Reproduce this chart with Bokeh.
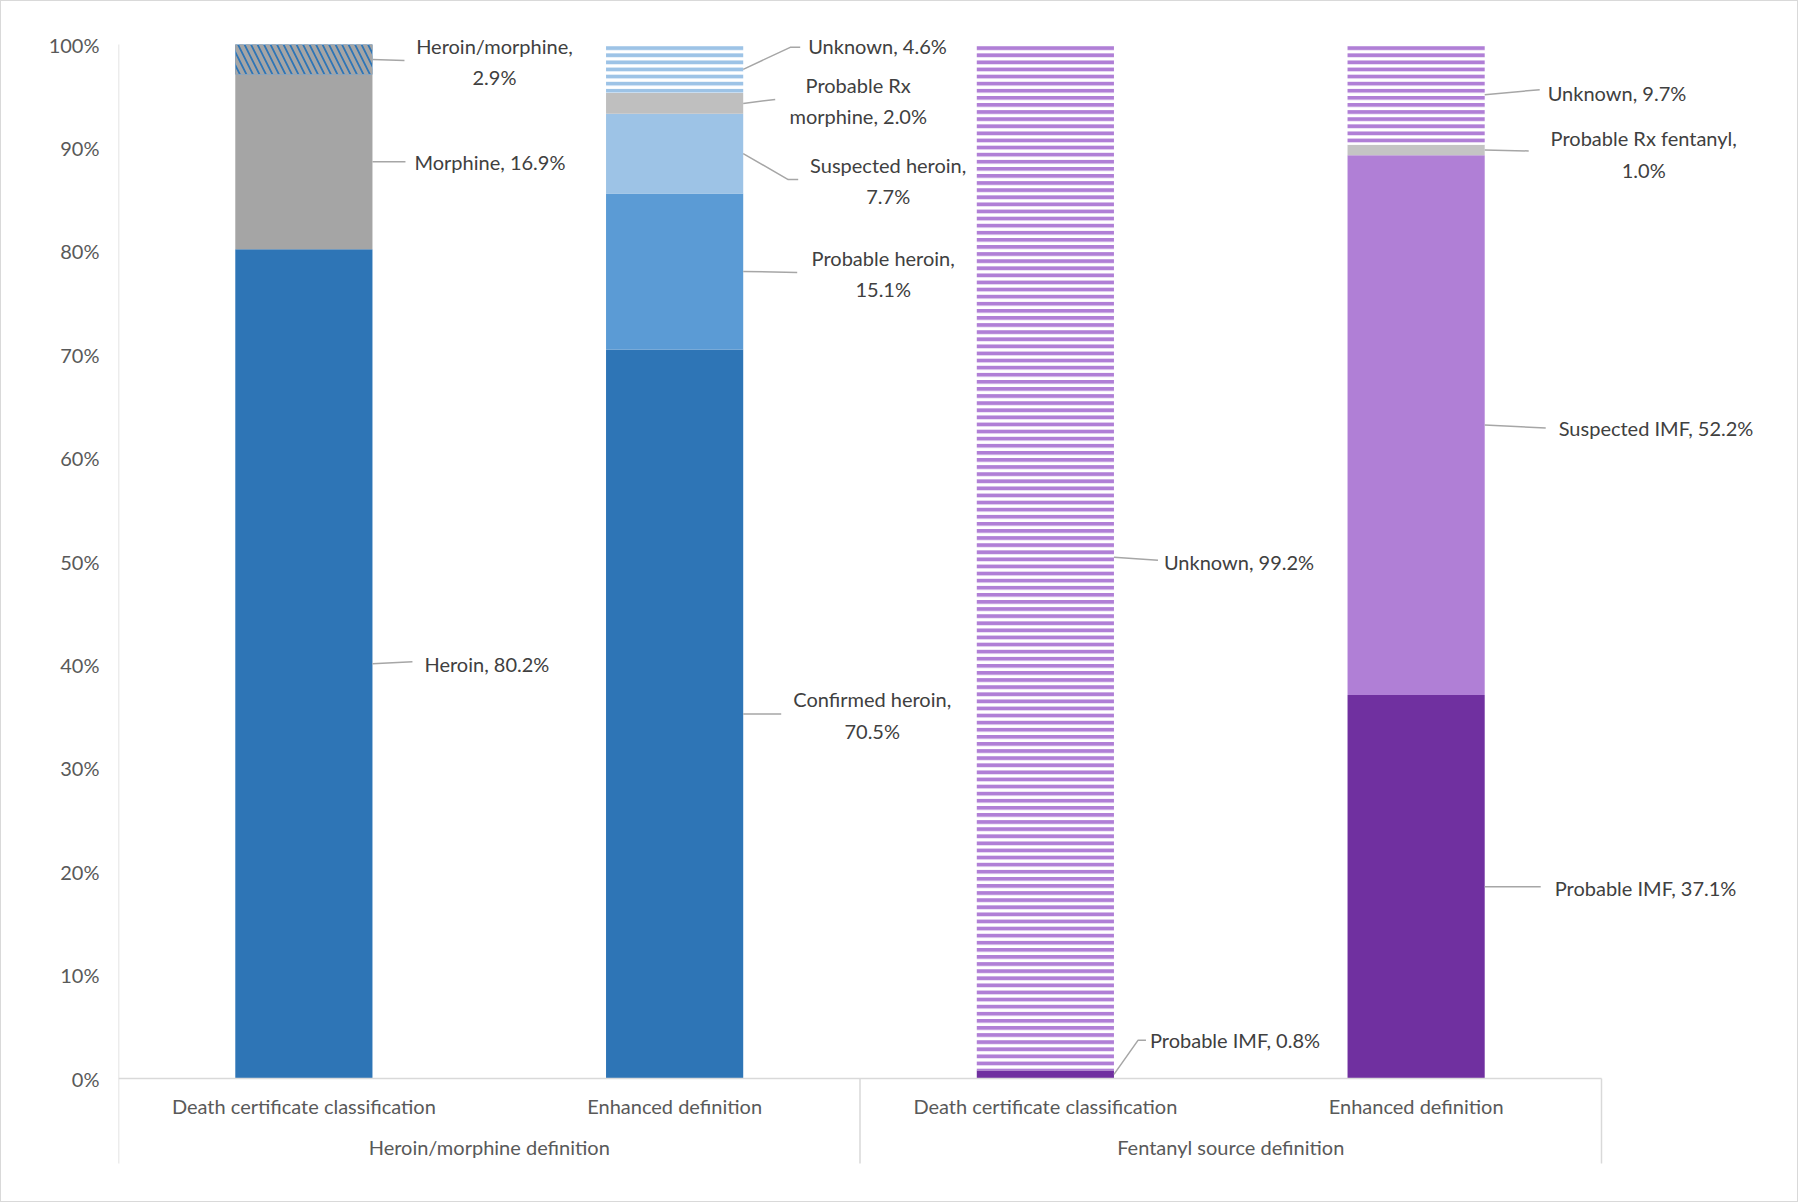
from bokeh.plotting import figure
from bokeh.models import Range1d, FixedTicker, PrintfTickFormatter, ColumnDataSource
from bokeh.embed import file_html
from bokeh.resources import INLINE
from bokeh.core.properties import value

# ---------------- data ----------------
groups = ["Heroin/morphine definition", "Fentanyl source definition"]
categories = ["Death certificate classification", "Enhanced definition",
              "Death certificate classification", "Enhanced definition"]
bar_group = [0, 0, 1, 1]

bar1_names = ["Heroin", "Morphine", "Heroin/morphine"]
bar1_values = [80.2, 16.9, 2.9]
bar2_names = ["Confirmed heroin", "Probable heroin", "Suspected heroin", "Probable Rx morphine", "Unknown"]
bar2_values = [70.5, 15.1, 7.7, 2.0, 4.6]
bar3_names = ["Probable IMF", "Unknown"]
bar3_values = [0.8, 99.2]
bar4_names = ["Probable IMF", "Suspected IMF", "Probable Rx fentanyl", "Unknown"]
bar4_values = [37.1, 52.2, 1.0, 9.7]

y_ticks = [0, 10, 20, 30, 40, 50, 60, 70, 80, 90, 100]

seg_names = [bar1_names, bar2_names, bar3_names, bar4_names]
seg_values = [bar1_values, bar2_values, bar3_values, bar4_values]

# ---------------- styles ----------------
BLUE = "#2e75b6"
MBLUE = "#5b9bd5"
LBLUE = "#9dc3e6"
GRAY = "#a5a5a5"
LGRAY = "#bfbfbf"
DPURPLE = "#7030a0"
LPURPLE = "#b07fd6"

# fill, hatch pattern, hatch color, hatch scale, hatch weight
seg_styles = [
    [(BLUE, " ", BLUE, 1, 1), (GRAY, " ", GRAY, 1, 1), (BLUE, "\\", GRAY, 13, 4)],
    [(BLUE, " ", BLUE, 1, 1), (MBLUE, " ", MBLUE, 1, 1), (LBLUE, " ", LBLUE, 1, 1),
     (LGRAY, " ", LGRAY, 1, 1), ("white", "-", LBLUE, 7.1, 3.8)],
    [(DPURPLE, " ", DPURPLE, 1, 1), ("white", "-", LPURPLE, 7.1, 3.8)],
    [(DPURPLE, " ", DPURPLE, 1, 1), (LPURPLE, " ", LPURPLE, 1, 1),
     ("#c4c4c4", " ", "#c4c4c4", 1, 1), ("white", "-", LPURPLE, 7.1, 3.8)],
]

# label layout (pixel offsets from bar edge / segment middle):
# text dx, text dy, align, leader points, wrap mode
label_layout = [
    [(52, 0, "left", [(40, -2)], None),
     (42, 0, "left", [(33, 0)], None),
     (122, 2, "center", [(32, 1)], "comma")],
    [(129, 1, "center", [(38, 0)], "comma"),
     (140, 2, "center", [(54, 1)], "comma"),
     (145, 27, "center", [(45, 26), (55, 26)], "comma"),
     (115, -3, "center", [(32, -4)], "Probable Rx\nmorphine"),
     (65, -23, "left", [(47, -22), (57, -22)], None)],
    [(36, -34, "left", [(24, -34), (32, -34)], None),
     (50, 5, "left", [(44, 3)], None)],
    [(70, 1, "left", [(56, 0)], None),
     (74, 3, "left", [(61, 3)], None),
     (159, 4, "center", [(44, 1)], "comma"),
     (63, -2, "left", [(55, -5)], None)],
]

FONT = "Lato"
TEXT_COLOR = "#404040"
AXIS_TEXT = "#595959"
LINE_COLOR = "#d9d9d9"
LEADER = "#a6a6a6"

PXX = 370.75        # pixels per category unit
PXY = 10.34         # pixels per percent
BAR_W = 0.37

W, H = 1798, 1202
LEFT, TOP = 117, 15
frame_w = W - LEFT
frame_h = H - TOP
zero_px = 1077 - TOP  # pixels from frame top to 0%
y_end = zero_px / PXY
y_start = -(frame_h - zero_px) / PXY

p = figure(width=W, height=H, output_backend="svg", toolbar_location=None,
           x_axis_type=None, x_range=Range1d(0, frame_w / PXX),
           y_range=Range1d(y_start, y_end),
           min_border_left=LEFT, min_border_top=TOP, min_border_right=0,
           min_border_bottom=0)
p.grid.visible = False
p.outline_line_color = None
p.background_fill_color = "white"
p.border_fill_color = "white"
p.styles = {"border": "1px solid #d9d9d9"}

yax = p.yaxis[0]
yax.ticker = FixedTicker(ticks=y_ticks)
yax.formatter = PrintfTickFormatter(format="%d%%")
yax.axis_line_color = None
yax.major_tick_line_color = None
yax.minor_tick_line_color = None
yax.major_tick_in = 0
yax.major_tick_out = 0
yax.major_label_standoff = 19
yax.major_label_text_font = FONT
yax.major_label_text_font_size = "20px"
yax.major_label_text_color = AXIS_TEXT

# ---------------- bars ----------------
cols = dict(x=[], bottom=[], top=[], fill=[], hatch=[], hcolor=[], hscale=[], hweight=[])
for i in range(len(seg_values)):
    b = 0.0
    for v, st in zip(seg_values[i], seg_styles[i]):
        cols["x"].append(i + 0.5)
        cols["bottom"].append(b)
        cols["top"].append(b + v)
        cols["fill"].append(st[0])
        cols["hatch"].append(st[1])
        cols["hcolor"].append(st[2])
        cols["hscale"].append(st[3])
        cols["hweight"].append(st[4])
        b += v
p.vbar(x="x", bottom="bottom", top="top", width=BAR_W, source=ColumnDataSource(cols),
       fill_color="fill", line_color=None, hatch_pattern="hatch", hatch_color="hcolor",
       hatch_scale="hscale", hatch_weight="hweight")

# ---------------- data labels + leaders ----------------
lx, ly, ltxt, lalign = [], [], [], []
leader_xs, leader_ys = [], []
for i in range(len(seg_values)):
    b = 0.0
    x0 = i + 0.5 + BAR_W / 2
    for name, v, lay in zip(seg_names[i], seg_values[i], label_layout[i]):
        mid = b + v / 2
        b += v
        dx, dy, align, pts, wrap = lay
        txt = f"{name}, {v:.1f}%"
        if wrap == "comma":
            txt = f"{name},\n{v:.1f}%"
        elif wrap:
            txt = f"{wrap}, {v:.1f}%"
        lx.append(x0 + dx / PXX)
        ly.append(mid - dy / PXY)
        ltxt.append(txt)
        lalign.append(align)
        xs = [x0] + [x0 + px / PXX for px, _ in pts]
        ys = [mid] + [mid - py / PXY for _, py in pts]
        leader_xs.append(xs)
        leader_ys.append(ys)

p.multi_line(xs=leader_xs, ys=leader_ys, line_color=LEADER, line_width=1.5)
p.text(x="x", y="y", text="t", text_align="a",
       source=ColumnDataSource(dict(x=lx, y=ly, t=ltxt, a=lalign)),
       text_font=value(FONT), text_font_size="20px", text_color=TEXT_COLOR,
       text_baseline="middle", text_line_height=1.32)

# ---------------- multi-level category axis ----------------
n = len(categories)
sep_bottom = -85 / PXY
p.segment(x0=[0], y0=[100], x1=[0], y1=[sep_bottom], line_color=LINE_COLOR, line_width=1.5)
p.segment(x0=[0], y0=[0], x1=[n], y1=[0], line_color=LINE_COLOR, line_width=1.5)
p.segment(x0=[2, 4], y0=[0, 0], x1=[2, 4], y1=[sep_bottom, sep_bottom],
          line_color=LINE_COLOR, line_width=1.5)

p.text(x=[i + 0.5 for i in range(n)], y=[-27 / PXY] * n, text=categories,
       text_font=value(FONT), text_font_size="20px", text_color=AXIS_TEXT,
       text_align="center", text_baseline="middle")
gx = []
for g in range(len(groups)):
    members = [i for i in range(n) if bar_group[i] == g]
    gx.append((min(members) + max(members) + 1) / 2)
p.text(x=gx, y=[-68 / PXY] * len(groups), text=groups,
       text_font=value(FONT), text_font_size="20px", text_color=AXIS_TEXT,
       text_align="center", text_baseline="middle")

open("out.html", "w").write(file_html(p, INLINE))
